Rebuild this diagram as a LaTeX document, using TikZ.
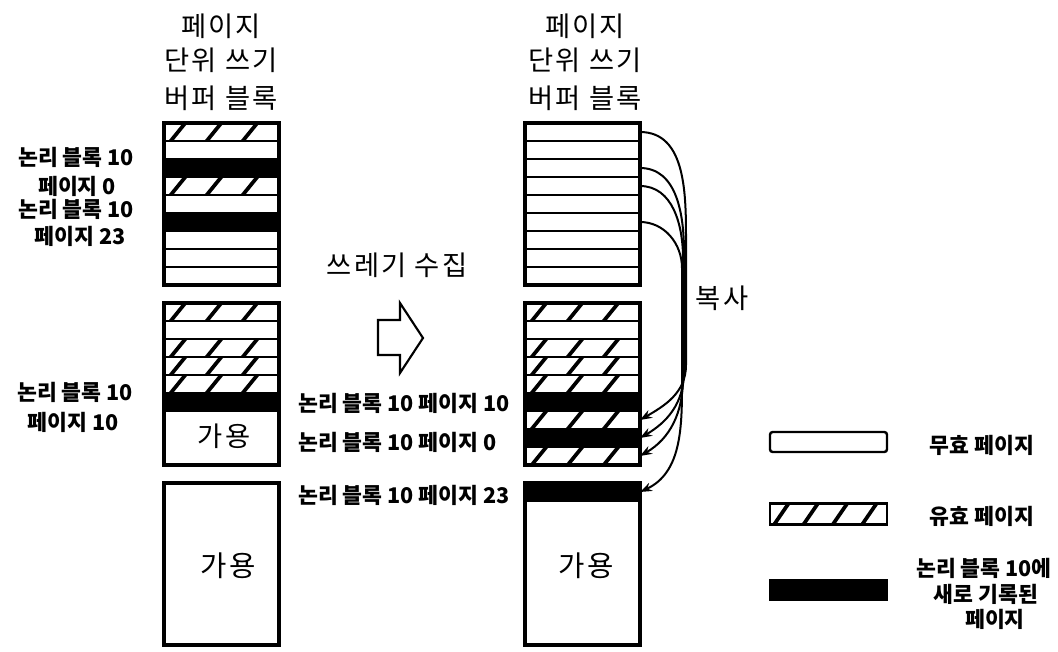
\documentclass[tikz,border=0pt]{standalone}
\usepackage{fontspec}
\newfontfamily\kr{Noto Sans CJK KR}
\newfontfamily\krs[LetterSpace=8]{Noto Sans CJK KR}
\usetikzlibrary{arrows.meta}
\tikzset{
  row/.style={draw, line width=1.8pt, minimum width=86.25pt, minimum height=13.5pt, inner sep=0pt, outer sep=0pt, fill=white},
  hrow/.style={row, path picture={\foreach \k in {-1,0,1,2,3}{\draw[line width=2.8pt] ([xshift={\k*27pt+5pt}]path picture bounding box.south west) -- ++(11pt,13.5pt);}}},
  brow/.style={row, fill=black},
  blk/.style={draw, line width=2.3pt, minimum width=86.25pt, minimum height=121.5pt, inner sep=0pt, outer sep=0pt},
  hdr/.style={inner sep=0pt, font=\krs\fontsize{20.5}{24}\selectfont},
  big/.style={inner sep=0pt, font=\krs\fontsize{21.5}{24}\selectfont},
  lbl/.style={inner sep=0pt, font=\kr\bfseries\fontsize{16.2}{19}\selectfont},
  cp/.style={line width=1.5pt, -{Stealth[length=9pt,width=6.5pt]}},
  leg/.style={draw, line width=1.8pt, minimum width=87.75pt, inner sep=0pt, outer sep=0pt}
}
\begin{document}
\begin{tikzpicture}[x=0.75pt,y=-0.75pt]
\fill[white] (0,0) rectangle (1058,651);
\useasboundingbox (0,0) rectangle (1058,651);

% headers
\node[hdr] (hL1) at (221,26) {페이지};
\node[hdr] (hL2) at (221,60) {단위 쓰기};
\node[hdr] (hL3) at (221,98) {버퍼 블록};
\node[hdr] (hR1) at (585,26) {페이지};
\node[hdr] (hR2) at (585,60) {단위 쓰기};
\node[hdr] (hR3) at (585,98) {버퍼 블록};

% left top block
\node[hrow] (LT1) at (221.5,132) {};
\node[row]  (LT2) at (221.5,150) {};
\node[brow] (LT3) at (221.5,168) {};
\node[hrow] (LT4) at (221.5,186) {};
\node[row]  (LT5) at (221.5,204) {};
\node[brow] (LT6) at (221.5,222) {};
\node[row]  (LT7) at (221.5,240) {};
\node[row]  (LT8) at (221.5,258) {};
\node[row]  (LT9) at (221.5,276) {};
\node[blk]  (LT)  at (221.5,204) {};

% left middle block
\node[hrow] (LM1) at (221.5,312) {};
\node[row]  (LM2) at (221.5,330) {};
\node[hrow] (LM3) at (221.5,348) {};
\node[hrow] (LM4) at (221.5,366) {};
\node[hrow] (LM5) at (221.5,384) {};
\node[brow] (LM6) at (221.5,402) {};
\node[blk]  (LM)  at (221.5,384) {};
\node[hdr]  (LMf) at (224,436) {가용};

% left bottom block
\node[blk]  (LB)  at (221.5,564) {};
\node[big]  (LBf) at (228,566) {가용};

% right top block
\node[row] (RT1) at (582.5,132) {};
\node[row] (RT2) at (582.5,150) {};
\node[row] (RT3) at (582.5,168) {};
\node[row] (RT4) at (582.5,186) {};
\node[row] (RT5) at (582.5,204) {};
\node[row] (RT6) at (582.5,222) {};
\node[row] (RT7) at (582.5,240) {};
\node[row] (RT8) at (582.5,258) {};
\node[row] (RT9) at (582.5,276) {};
\node[blk] (RT)  at (582.5,204) {};

% right middle block
\node[hrow] (RM1) at (582.5,312) {};
\node[row]  (RM2) at (582.5,330) {};
\node[hrow] (RM3) at (582.5,348) {};
\node[hrow] (RM4) at (582.5,366) {};
\node[hrow] (RM5) at (582.5,384) {};
\node[brow] (RM6) at (582.5,402) {};
\node[hrow] (RM7) at (582.5,420) {};
\node[brow] (RM8) at (582.5,438) {};
\node[hrow] (RM9) at (582.5,456) {};
\node[blk]  (RM)  at (582.5,384) {};

% right bottom block
\node[brow] (RB1) at (582.5,492) {};
\node[blk]  (RB)  at (582.5,564) {};
\node[big]  (RBf) at (586,566) {가용};

% left labels
\node[lbl] (l1) at (76,157) {논리 블록 10};
\node[lbl] (l2) at (77,186) {페이지 0};
\node[lbl] (l3) at (76,209) {논리 블록 10};
\node[lbl] (l4) at (80,236) {페이지 23};
\node[lbl] (l5) at (75,392) {논리 블록 10};
\node[lbl] (l6) at (73,422) {페이지 10};

% middle labels
\node[lbl, anchor=west] (m1) at (298,403) {논리 블록 10 페이지 10};
\node[lbl, anchor=west] (m2) at (298,442) {논리 블록 10 페이지 0};
\node[lbl, anchor=west] (m3) at (298,495) {논리 블록 10 페이지 23};

% garbage collection
\node[hdr] (gc) at (397,265) {쓰레기 수집};
\draw[line width=1.6pt, line join=miter] (378,320) -- (400,320) -- (400,303) -- (423,338) -- (400,373) -- (400,355) -- (378,355) -- cycle;

% copy arrows
\draw[cp] (RT1.east) to[out=0,in=90] (686,242) -- (686,365) to[out=-90,in=30] (RM7.east);
\draw[cp] (RT3.east) to[out=0,in=90] (684,252) -- (684,372) to[out=-90,in=30] (RM8.east);
\draw[cp] (RT4.east) to[out=0,in=90] (683,258) -- (683,378) to[out=-90,in=30] (RM9.east);
\draw[cp] (RT6.east) to[out=0,in=90] (682,268) -- (682,385) to[out=-90,in=25] (RB1.east);
\node[hdr] (copy) at (722,298) {복사};

% legend
\node[leg, minimum height=15pt, rounded corners=2pt, fill=white] (g1) at (828.5,442) {};
\node[leg, minimum height=16pt, path picture={\foreach \k in {0,1,2,3}{\draw[line width=2.8pt] ([xshift={\k*22pt+3pt}]path picture bounding box.south west) -- ++(11pt,16pt);}}] (g2) at (828.5,514) {};
\node[leg, minimum height=15pt, fill=black] (g3) at (828.5,590) {};
\node[lbl] (t1) at (982,445) {무효 페이지};
\node[lbl] (t2) at (982,516) {유효 페이지};
\node[lbl] (t3a) at (984,568) {논리 블록 10에};
\node[lbl] (t3b) at (986,594) {새로 기록된};
\node[lbl] (t3c) at (995,619) {페이지};
\end{tikzpicture}
\end{document}
